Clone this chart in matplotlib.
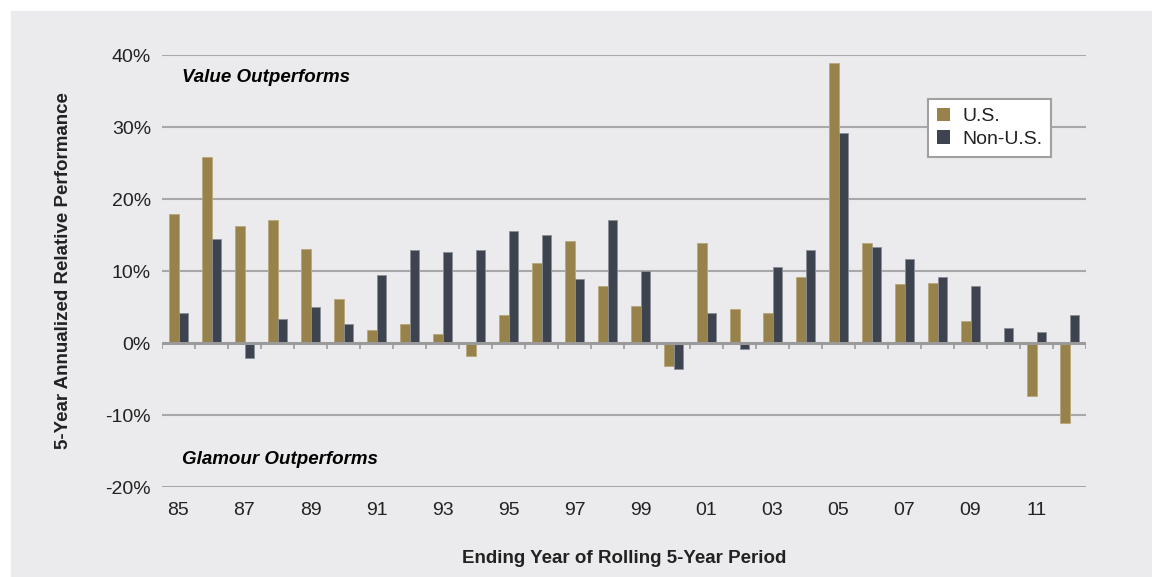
"""
Value vs. Glamour: rolling 5-year relative performance, U.S. and Non-U.S.
"""

import numpy as np
import matplotlib.pyplot as plt
from matplotlib.ticker import FuncFormatter

# ─────────────────────────────────────────────
# DATA
# ─────────────────────────────────────────────

years = ["85", "86", "87", "88", "89", "90", "91", "92", "93", "94",
         "95", "96", "97", "98", "99", "00", "01", "02", "03", "04",
         "05", "06", "07", "08", "09", "10", "11", "12"]

us_perf = [17.9, 25.8, 16.3, 17.1, 13.1, 6.1, 1.8, 2.6, 1.3, -1.8,
           3.9, 11.1, 14.2, 7.9, 5.2, -3.2, 13.9, 4.7, 4.2, 9.2,
           38.9, 13.9, 8.2, 8.4, 3.1, -0.1, -7.4, -11.1]

non_us_perf = [4.2, 14.4, -2.1, 3.4, 5.0, 2.6, 9.4, 12.9, 12.6, 12.9,
               15.5, 15.0, 8.9, 17.1, 10.0, -3.6, 4.2, -0.8, 10.5, 12.9,
               29.2, 13.4, 11.6, 9.2, 7.9, 2.1, 1.5, 3.9]

y_ticks = [-20, -10, 0, 10, 20, 30, 40]

# ─────────────────────────────────────────────
# STYLE
# ─────────────────────────────────────────────

BG       = "#ebebed"
GOLD     = "#97824b"
SLATE    = "#3d444f"
GRID     = "#a8a8a8"
TEXT     = "#222222"
FONT     = ["Liberation Sans Narrow", "Liberation Sans", "DejaVu Sans"]

plt.rcParams["font.family"] = FONT

fig = plt.figure(figsize=(11.52, 5.77), dpi=100)
fig.patch.set_facecolor("white")
# grey panel behind the chart, leaving a thin white strip top/left
fig.patches.append(plt.Rectangle((11 / 1152, 0), 1, 1 - 11 / 577,
                                 transform=fig.transFigure, color=BG, zorder=-1))

ax = fig.add_axes([162 / 1152, 1 - 487 / 577, 924 / 1152, 432 / 577])
ax.set_facecolor("none")

x = np.arange(len(years))
w = 0.29
ax.bar(x - w / 2, us_perf, w, color=GOLD, edgecolor="#b8a77a", linewidth=0.6,
       label="U.S.", zorder=3)
ax.bar(x + w / 2, non_us_perf, w, color=SLATE, edgecolor="#8a8f98", linewidth=0.6,
       label="Non-U.S.", zorder=3)

ax.set_xlim(-0.5, len(years) - 0.5)
ax.set_ylim(-20, 40)

# horizontal grid + darker zero line with small boundary ticks
for t in y_ticks:
    if t != 0:
        ax.axhline(t, color=GRID, lw=1.5, zorder=1)
ax.axhline(0, color="#9a9a9a", lw=2.2, zorder=4)
bounds = np.arange(len(years) + 1) - 0.5
ax.vlines(bounds, -0.8, 0, color="#9a9a9a", lw=1.2, zorder=4)

for s in ax.spines.values():
    s.set_visible(False)

ax.set_yticks(y_ticks)
ax.yaxis.set_major_formatter(FuncFormatter(lambda v, _: f"{v:.0f}%"))
ax.set_xticks(x[::2])
ax.set_xticklabels(years[::2])
ax.tick_params(axis="both", length=0, labelsize=14, colors=TEXT)
ax.tick_params(axis="x", pad=11)
ax.tick_params(axis="y", pad=8)

ax.set_ylabel("5-Year Annualized Relative Performance", fontsize=13.5,
              fontweight="bold", color=TEXT, labelpad=24)
ax.set_xlabel("Ending Year of Rolling 5-Year Period", fontsize=13.5,
              fontweight="bold", color=TEXT, labelpad=22)

ax.text(0.022, 0.947, "Value Outperforms", transform=ax.transAxes,
        fontsize=13.5, fontweight="bold", style="italic", color="black",
        va="center", ha="left")
ax.text(0.022, 0.063, "Glamour Outperforms", transform=ax.transAxes,
        fontsize=13.5, fontweight="bold", style="italic", color="black",
        va="center", ha="left")

leg = ax.legend(loc="upper left", bbox_to_anchor=(0.829, 0.898), fontsize=14,
                frameon=True, fancybox=False, framealpha=1, edgecolor="#a0a0a0",
                handlelength=0.7, handleheight=0.7, handletextpad=0.6,
                borderpad=0.45, labelspacing=0.25, borderaxespad=0)
leg.get_frame().set_linewidth(1.5)
for txt in leg.get_texts():
    txt.set_color(TEXT)
for h in leg.legend_handles:
    h.set_edgecolor("none")

fig.savefig("out.png", dpi=100, facecolor=fig.get_facecolor())
